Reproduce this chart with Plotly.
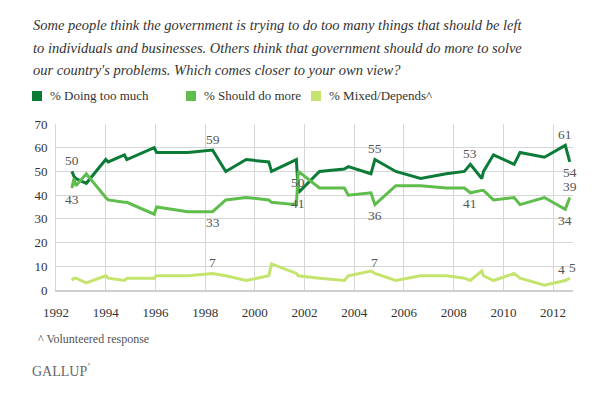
import plotly.graph_objects as go

dates = [1992.64, 1992.72, 1992.8, 1993.22, 1994.0, 1994.1, 1994.75, 1994.85,
         1995.95, 1996.05, 1997.3, 1998.3, 1998.83, 1999.65, 2000.56, 2000.67,
         2001.67, 2001.75, 2002.6, 2003.6, 2003.76, 2004.67, 2004.83, 2005.67,
         2006.67, 2007.7, 2008.43, 2008.67, 2009.13, 2009.2, 2009.6, 2010.43,
         2010.67, 2011.65, 2012.49, 2012.67]
too_much = [50, 48, 47, 45, 55, 54, 57, 55, 60, 58, 58, 59, 50, 55, 54, 50,
            55, 41, 50, 51, 52, 49, 55, 50, 47, 49, 50, 53, 47, 50, 57, 53,
            58, 56, 61, 54]
do_more = [43, 47, 44, 49, 39, 38, 37, 37, 32, 35, 33, 33, 38, 39, 38, 37,
           36, 50, 43, 43, 40, 41, 36, 44, 44, 43, 43, 41, 42, 42, 38, 39,
           36, 39, 34, 39]
mixed = [4, 5, 5, 3, 6, 5, 4, 5, 5, 6, 6, 7, 6, 4, 6, 11,
         7, 6, 5, 4, 6, 8, 7, 4, 6, 6, 5, 4, 8, 6, 4, 7,
         5, 2, 4, 5]
series_names = ["% Doing too much", "% Should do more", "% Mixed/Depends^"]
tick_years = list(range(1992, 2013, 2))
y_ticks = list(range(0, 71, 10))
title_lines = [
    "Some people think the government is trying to do too many things that should be left",
    "to individuals and businesses. Others think that government should do more to solve",
    "our country's problems. Which comes closer to your own view?",
]

# labelled points: (series index, point index, position, xshift)
labels = [(0, 0, "above", 0), (1, 0, "below", 0),
          (0, 11, "above", 0), (1, 11, "below", 0), (2, 11, "above", 0),
          (1, 17, "below", 0), (0, 17, "below", 0),
          (0, 22, "above", 0), (1, 22, "below", 0), (2, 22, "above", 0),
          (0, 27, "above", 0), (1, 27, "below", 0),
          (0, 34, "above", 0), (0, 35, "below", 0), (1, 35, "above", 0), (1, 34, "below", 0),
          (2, 34, "above", -4), (2, 35, "above", 3)]

colors = ["#0b7b37", "#5ebd4b", "#c4e46d"]
serif = "Liberation Serif"
all_vals = [too_much, do_more, mixed]

fig = go.Figure()
for name, vals, col in zip(series_names, all_vals, colors):
    fig.add_trace(go.Scatter(x=dates, y=vals, name=name, mode="lines",
                             line=dict(color=col, width=3), showlegend=False,
                             hoverinfo="x+y"))

annotations = []
for si, pi, pos, xs in labels:
    annotations.append(dict(x=dates[pi], y=all_vals[si][pi], xref="x", yref="y",
                            text=str(all_vals[si][pi]), showarrow=False, xshift=xs,
                            yshift=11 if pos == "above" else -11,
                            font=dict(family=serif, size=13.5, color="#555")))

for i, line in enumerate(title_lines):
    annotations.append(dict(x=31, y=25 + 22.5 * i, xref="paper", yref="paper",
                            text="<i>" + line + "</i>",
                            showarrow=False, align="left", xanchor="left", yanchor="middle",
                            font=dict(family=serif, size=14.5, color="#333")))

shapes = []
leg_x = [32, 186, 311]
for lx, name, col in zip(leg_x, series_names, colors):
    shapes.append(dict(type="rect", xref="paper", yref="paper",
                       x0=lx, x1=lx + 10, y0=91, y1=101, fillcolor=col, line=dict(width=0)))
    annotations.append(dict(x=lx + 16, y=96, xref="paper", yref="paper", text=name,
                            showarrow=False, xanchor="left", yanchor="middle",
                            font=dict(family=serif, size=13, color="#333")))

annotations.append(dict(x=36, y=339, xref="paper", yref="paper", text="^ Volunteered response",
                        showarrow=False, xanchor="left", yanchor="middle",
                        font=dict(family=serif, size=12, color="#555")))
annotations.append(dict(x=30, y=370, xref="paper", yref="paper", text="GALLUP<sup>&#8217;</sup>",
                        showarrow=False, xanchor="left", yanchor="middle",
                        font=dict(family=serif, size=14, color="#666")))

# window pixel coords -> paper fractions (page body has an 8px margin)
OFF = 8
W, H = 609 - OFF, 393 - OFF
L, R, T, B = 56 - OFF, 36, 124 - OFF, 103
pw, ph = W - L - R, H - T - B
for a in annotations:
    if a["xref"] == "paper":
        a["x"] = (a["x"] - OFF - L) / pw
        a["y"] = (H - B - (a["y"] - OFF)) / ph
for s in shapes:
    s["x0"] = (s["x0"] - OFF - L) / pw
    s["x1"] = (s["x1"] - OFF - L) / pw
    s["y0"], s["y1"] = (H - B - (s["y1"] - OFF)) / ph, (H - B - (s["y0"] - OFF)) / ph

fig.update_layout(
    width=W, height=H, margin=dict(l=L, r=R, t=T, b=B),
    paper_bgcolor="white", plot_bgcolor="white",
    font=dict(family=serif),
    annotations=annotations, shapes=shapes,
    xaxis=dict(range=[1992, 2012.8], tickvals=tick_years, ticktext=[str(y) for y in tick_years],
               showgrid=True, gridcolor="#d6d6d6", gridwidth=1, zeroline=False,
               showline=True, linecolor="#cfcfcf", linewidth=2,
               ticks="outside", ticklen=9, tickcolor="rgba(0,0,0,0)",
               tickfont=dict(family=serif, size=13, color="#333")),
    yaxis=dict(range=[0, 70], tickvals=y_ticks, showgrid=True, gridcolor="#d6d6d6",
               gridwidth=1, zeroline=False, showline=True, linecolor="#d6d6d6", linewidth=1,
               ticks="outside", ticklen=5, tickcolor="rgba(0,0,0,0)",
               tickfont=dict(family=serif, size=13, color="#333")),
    showlegend=False,
)
fig.write_html("out.html")
